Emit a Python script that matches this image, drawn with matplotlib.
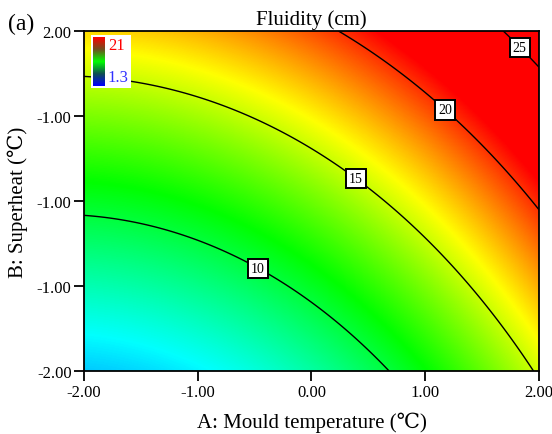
import numpy as np
import matplotlib
matplotlib.use("Agg")
import matplotlib.pyplot as plt
from matplotlib.colors import LinearSegmentedColormap

# quadratic response-surface coefficients (coded units)
# terms: intercept, A, B, A^2, B^2, AB
coef_names = ["b0", "A", "B", "A2", "B2", "AB"]
coef_vals = [13.2, 2.45, 2.84, 0.546, 0.13, -0.025]

contour_levels = [10, 15, 20, 25]
label_spots = [(-0.45, -0.74), (0.40, 0.29), (1.19, 1.09), (1.86, 1.85)]
scale_lo, scale_hi = 1.3, 21
xticks = [-2, -1, 0, 1, 2]
xticklabels = ["-2.00", "-1.00", "0.00", "1.00", "2.00"]
yticks = [2, 1, 0, -1, -2]
yticklabels = ["2.00", "-1.00", "-1.00", "-1.00", "-2.00"]

serif = ["Liberation Serif", "DejaVu Serif"]
plt.rcParams["font.family"] = serif

c = dict(zip(coef_names, coef_vals))
a = np.linspace(-2, 2, 400)
b = np.linspace(-2, 2, 400)
A, B = np.meshgrid(a, b)
Z = (c["b0"] + c["A"] * A + c["B"] * B + c["A2"] * A**2
     + c["B2"] * B**2 + c["AB"] * A * B)

cmap = LinearSegmentedColormap.from_list(
    "de", ["#0000ff", "#00ffff", "#00ff00", "#ffff00", "#ff0000"])

fig = plt.figure(figsize=(5.52, 4.35), dpi=100)
ax = fig.add_axes([0.1522, 0.1448, 0.8242, 0.7816])
ax.imshow(Z, origin="lower", extent=[-2, 2, -2, 2], aspect="auto",
          cmap=cmap, vmin=scale_lo, vmax=scale_hi, interpolation="bilinear")
cs = ax.contour(A, B, Z, levels=contour_levels, colors="black", linewidths=1.0)
labels = ax.clabel(cs, fmt="%d", fontsize=10, inline=False, manual=label_spots)
for t in labels:
    t.set_rotation(0)
    t.set_bbox(dict(facecolor="white", edgecolor="black", pad=2.2, linewidth=1.4))

ax.set_xlim(-2, 2)
ax.set_ylim(-2, 2)
ax.set_xticks(xticks)
ax.set_xticklabels(xticklabels)
ax.set_yticks(yticks)
ax.set_yticklabels(yticklabels)
ax.tick_params(direction="out", length=7, width=1.3, labelsize=12, pad=2)
for s in ax.spines.values():
    s.set_linewidth(1.3)
ax.set_xlabel("A: Mould temperature (℃)", fontsize=15, labelpad=9)
ax.set_ylabel("B: Superheat (℃)", fontsize=15, labelpad=6)
ax.set_title("Fluidity (cm)", fontsize=15, pad=5)
fig.text(0.015, 0.93, "(a)", fontsize=17)

# small colour key in the corner
key = fig.add_axes([91 / 552, 1 - 89 / 435, 40 / 552, 53 / 435])
key.axis("off")
key.add_patch(plt.Rectangle((0, 0), 1, 1, facecolor="white",
                            edgecolor="none", zorder=0))
grad = LinearSegmentedColormap.from_list(
    "k", ["#0000ff", "#105050", "#00ff00", "#705020", "#ff0000"])
key.imshow(np.linspace(0, 1, 100)[:, None], origin="lower", cmap=grad,
           extent=[0.05, 0.33, 0.04, 0.96], aspect="auto", zorder=2)
key.set_xlim(0, 1)
key.set_ylim(0, 1)
key.text(0.42, 0.82, "21", color="red", fontsize=12, va="center")
key.text(0.42, 0.2, "1.3", color="#3030ff", fontsize=12, va="center")

fig.savefig("out.png", dpi=100)
